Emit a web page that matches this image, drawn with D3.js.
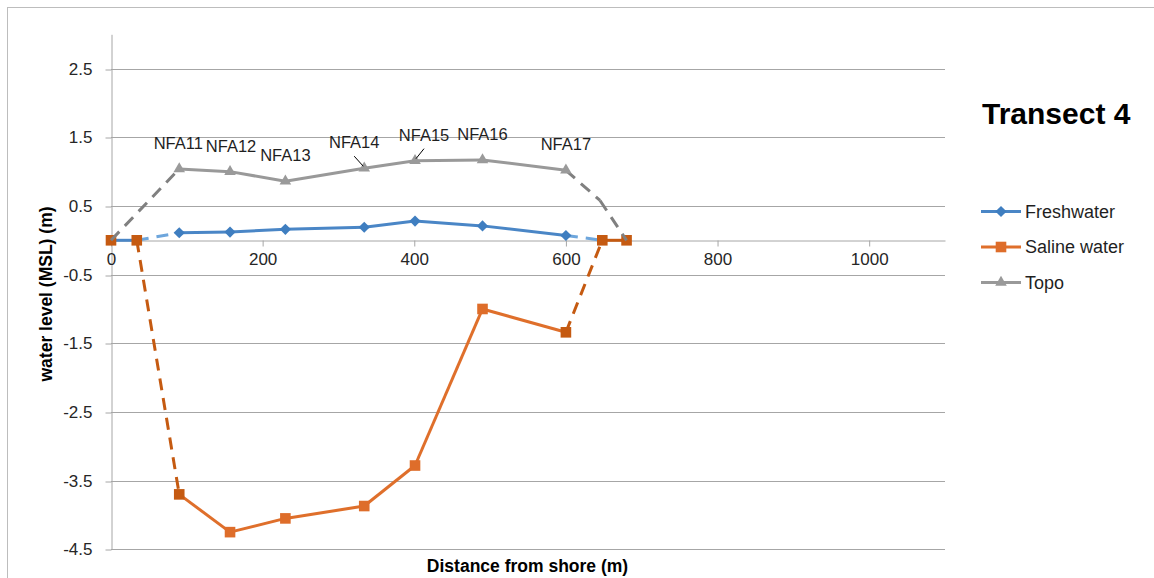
<!DOCTYPE html>
<html>
<head>
<meta charset="utf-8">
<script src="https://cdn.jsdelivr.net/npm/d3@7/dist/d3.min.js"></script>
<style>
  body { margin: 0; background: #fff; }
  svg { display: block; font-family: "Liberation Sans", Arial, sans-serif; }
</style>
</head>
<body>
<svg id="chart" width="1154" height="578"></svg>
<script>
// ---- data: water levels along transect 4 (distance from shore in m, level in m MSL)
const freshDistance  = [0, 34, 90, 157, 230, 334, 401, 490, 600, 648];
const freshLevel     = [0, 0, 0.11, 0.12, 0.16, 0.19, 0.28, 0.21, 0.07, 0];
const salineDistance = [0, 34, 90, 157, 230, 334, 401, 490, 600, 648, 680];
const salineLevel    = [0, 0, -3.70, -4.25, -4.05, -3.87, -3.28, -1.00, -1.34, 0, 0];
const topoDistance   = [0, 90, 157, 230, 334, 401, 490, 600, 645, 680];
const topoLevel      = [0, 1.04, 1.00, 0.86, 1.05, 1.16, 1.17, 1.02, 0.58, 0];
const wellNames      = ["NFA11", "NFA12", "NFA13", "NFA14", "NFA15", "NFA16", "NFA17"];
const seriesNames    = ["Freshwater", "Saline water", "Topo"];
const xTickValues    = [0, 200, 400, 600, 800, 1000];
const yTickValues    = [-4.5, -3.5, -2.5, -1.5, -0.5, 0.5, 1.5, 2.5];

// ---- drawing styles per series
const styles = [
  { color: "#4a86c6", dashColor: "#6ea6dc", marker: "diamond", markerColor: "#3f7ec0",
    markerIdx: [2,3,4,5,6,7,8], dashed: [1, 8], skip: [], darkIdx: [] },
  { color: "#df6f2b", dashColor: "#c55a11", marker: "square", markerColor: "#de6d2a",
    markerIdx: [0,1,2,3,4,5,6,7,8,9,10], dashed: [1, 8], skip: [0], darkIdx: [0,1,2,8,9,10], darkSeg: [9] },
  { color: "#999999", dashColor: "#808080", marker: "triangle", markerColor: "#9a9a9a",
    markerIdx: [1,2,3,4,5,6,7], dashed: [0, 7, 8], skip: [], darkIdx: [] }
];

const svg = d3.select("#chart");
const W = 1154, H = 578;

// chart area frame
svg.append("rect").attr("x", 0).attr("y", 0).attr("width", W).attr("height", H).attr("fill", "#fff");
svg.append("rect").attr("x", 7.5).attr("y", 7.5).attr("width", W + 20).attr("height", H + 20)
  .attr("fill", "none").attr("stroke", "#bdbdbd").attr("stroke-width", 1);

const x = d3.scaleLinear().domain([0, 1100]).range([111, 945]);
const y = d3.scaleLinear().domain([-4.5, 3]).range([549.3, 34.3]);
const gridColor = "#a6a6a6";
const fmtLevel = d => d.toFixed(1);   // plain hyphen-minus for negatives

// horizontal gridlines
svg.append("g").selectAll("line").data(yTickValues).join("line")
  .attr("x1", x(0)).attr("x2", x(1100))
  .attr("y1", d => Math.round(y(d)) + 0.5).attr("y2", d => Math.round(y(d)) + 0.5)
  .attr("stroke", gridColor).attr("stroke-width", 1);

// y axis
const yAxis = svg.append("g")
  .attr("transform", `translate(${x(0) + 0.5},0)`)
  .call(d3.axisLeft(y).tickValues(yTickValues).tickSize(6).tickSizeOuter(0)
    .tickPadding(13).tickFormat(fmtLevel));
yAxis.selectAll(".tick line").attr("stroke", gridColor)
  .attr("transform", d => `translate(0,${Math.round(y(d)) + 0.5 - y(d)})`);
yAxis.select(".domain").attr("stroke", gridColor);
yAxis.selectAll("text").attr("font-size", 17).attr("fill", "#262626")
  .attr("font-family", "'Liberation Sans', Arial, sans-serif");

// x axis crossing at zero
const xAxis = svg.append("g")
  .attr("transform", `translate(0,${Math.round(y(0)) + 0.5})`)
  .call(d3.axisBottom(x).tickValues(xTickValues).tickSize(6).tickSizeOuter(0)
    .tickPadding(6).tickFormat(d => String(d)));
xAxis.selectAll(".tick line").attr("stroke", gridColor);
xAxis.select(".domain").attr("stroke", gridColor);
xAxis.selectAll("text").attr("font-size", 17).attr("fill", "#262626")
  .attr("font-family", "'Liberation Sans', Arial, sans-serif");

// marker shapes
function markerPath(kind) {
  if (kind === "diamond") return "M0,-5.6L5.6,0L0,5.6L-5.6,0Z";
  if (kind === "square") return "M-5.3,-5.3H5.3V5.3H-5.3Z";
  return d3.symbol(d3.symbolTriangle, 58)();
}

const seriesData = [
  freshDistance.map((d, i) => [d, freshLevel[i]]),
  salineDistance.map((d, i) => [d, salineLevel[i]]),
  topoDistance.map((d, i) => [d, topoLevel[i]])
];

const line = d3.line().x(d => x(d[0])).y(d => y(d[1]));

seriesData.forEach((pts, s) => {
  const st = styles[s];
  const g = svg.append("g");
  for (let i = 0; i < pts.length - 1; i++) {
    if (st.skip.includes(i)) continue;
    const dashed = st.dashed.includes(i);
    const dark = st.darkSeg && st.darkSeg.includes(i);
    g.append("path").attr("d", line([pts[i], pts[i + 1]]))
      .attr("fill", "none")
      .attr("stroke", dashed || dark ? st.dashColor : st.color)
      .attr("stroke-width", 3)
      .attr("stroke-dasharray", dashed ? "12,8" : null);
  }
  g.selectAll("path.mk").data(st.markerIdx).join("path")
    .attr("class", "mk")
    .attr("d", markerPath(st.marker))
    .attr("transform", i => `translate(${x(pts[i][0])},${y(pts[i][1])})`)
    .attr("fill", i => st.darkIdx.includes(i) ? "#c55a11" : st.markerColor);
});

// well labels on the topo series
const labelNudge = [[-1, -20], [1, -20], [0, -20], [-10, -20], [9, -20], [0, -20], [0, -20]];
const lg = svg.append("g");
wellNames.forEach((name, k) => {
  const p = seriesData[2][k + 1];
  const px = x(p[0]), py = y(p[1]);
  const [dx, dy] = labelNudge[k];
  lg.append("text").attr("x", px + dx).attr("y", py + dy)
    .attr("text-anchor", "middle").attr("font-size", 16.5).attr("fill", "#1f1f1f")
    .text(name);
  if (Math.abs(dx) > 2) {
    lg.append("line")
      .attr("x1", px + dx).attr("y1", py + dy + 8)
      .attr("x2", px + (dx > 0 ? 1 : -1)).attr("y2", py - 2)
      .attr("stroke", "#000").attr("stroke-width", 1);
  }
});

// title
svg.append("text").attr("x", 982).attr("y", 124)
  .attr("font-size", 30).attr("font-weight", "bold").attr("fill", "#000")
  .text("Transect 4");

// legend
const legendY = [211.5, 247, 282.5];
seriesNames.forEach((name, s) => {
  const st = styles[s];
  const g = svg.append("g").attr("transform", `translate(0,${legendY[s]})`);
  g.append("line").attr("x1", 981).attr("x2", 1021).attr("y1", 0).attr("y2", 0)
    .attr("stroke", st.color).attr("stroke-width", 3);
  g.append("path").attr("d", markerPath(st.marker))
    .attr("transform", "translate(1001,0)").attr("fill", st.markerColor);
  g.append("text").attr("x", 1025).attr("y", 6).attr("font-size", 18).attr("fill", "#1f1f1f")
    .text(name);
});

// axis titles
svg.append("text").attr("x", 527.5).attr("y", 571.5).attr("text-anchor", "middle")
  .attr("font-size", 17.5).attr("font-weight", "bold").attr("fill", "#000")
  .text("Distance from shore (m)");
svg.append("text").attr("transform", "translate(52,294) rotate(-90)").attr("text-anchor", "middle")
  .attr("font-size", 17.5).attr("font-weight", "bold").attr("fill", "#000")
  .text("water level (MSL) (m)");
</script>
</body>
</html>
